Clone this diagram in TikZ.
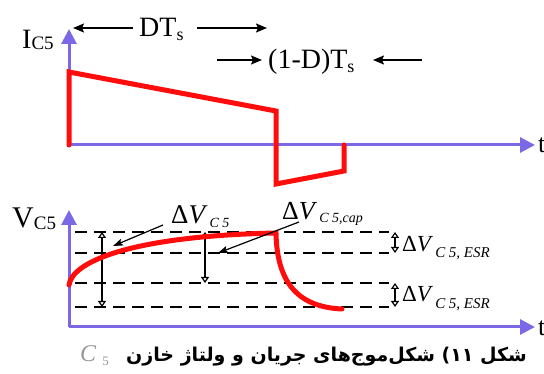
\documentclass[tikz,border=0pt]{standalone}
\usepackage{fontspec}
\setmainfont{Liberation Serif}
\newfontfamily\arabicfont[Script=Arabic]{DejaVu Sans}
\TeXXeTstate=1
\usetikzlibrary{arrows.meta}
\definecolor{axcol}{RGB}{123,104,230}
\definecolor{wred}{RGB}{255,12,12}
\definecolor{capgray}{RGB}{150,150,150}
\newcommand\fsz[1]{\fontsize{#1}{#1}\selectfont}
\begin{document}
\begin{tikzpicture}[x=1pt,y=-1pt,
 axis/.style={draw=axcol,line width=3pt,-{Triangle[length=15pt,width=15pt]}},
 wave/.style={draw=wred,line width=5pt,line join=miter,line cap=round},
 dashline/.style={draw=black,line width=1.3pt,dash pattern=on 12pt off 7pt},
 lbl/.style={inner sep=0pt,anchor=base west},
 dimarrow/.style={draw=black,line width=1.5pt,-{Stealth[length=11pt,width=9pt,inset=2pt]}},
 pointer/.style={draw=black,line width=1.2pt,-{Stealth[length=10pt,width=7pt,inset=2pt]}},
 openarrow/.style={draw=black,line width=1.2pt,{Triangle[open,fill=white,length=6pt,width=8pt]}-{Triangle[open,fill=white,length=6pt,width=8pt]}},
]
\useasboundingbox (0,0) rectangle (544,374);
% ---------- top plot ----------
\coordinate (o1) at (69,145);
\coordinate (y1) at (69,29);
\coordinate (x1) at (535,145);
\draw[axis] (o1) -- (y1);
\draw[axis] (o1) -- (x1);
\coordinate (a0) at (69,145);
\coordinate (a1) at (69,72);
\coordinate (a2) at (276,111);
\coordinate (a3) at (276,184);
\coordinate (a4) at (344,171);
\coordinate (a5) at (344,145);
\draw[wave] (a0) -- (a1) -- (a2) -- (a3) -- (a4) -- (a5);
\node[lbl] (ic5) at (22,49) {\fsz{28}I\raisebox{-1pt}{\fsz{19}C5}};
\node[lbl] (t1) at (538,153) {\fsz{26}t};
\node[lbl] (dt) at (139,37) {\fsz{28}DT\raisebox{-4pt}{\fsz{18}s}};
\coordinate (dtA) at (133,28);
\coordinate (dtB) at (73,28);
\coordinate (dtC) at (197,28);
\coordinate (dtD) at (267,28);
\draw[dimarrow] (dtA) -- (dtB);
\draw[dimarrow] (dtC) -- (dtD);
\node[lbl] (odt) at (268,69) {\fsz{28}(1-D)T\raisebox{-4pt}{\fsz{18}s}};
\coordinate (odA) at (217,60);
\coordinate (odB) at (262,60);
\coordinate (odC) at (422,60);
\coordinate (odD) at (373,60);
\draw[dimarrow] (odA) -- (odB);
\draw[dimarrow] (odC) -- (odD);
% ---------- bottom plot ----------
\foreach \n/\yy in {1/232,2/253,3/283,4/307}{
  \coordinate (dl\n) at (75,\yy);
  \coordinate (dr\n) at (389,\yy);
  \draw[dashline] (dl\n) -- (dr\n);
}
\coordinate (o2) at (69,327);
\coordinate (y2) at (69,210);
\coordinate (x2) at (535,327);
\draw[axis] (o2) -- (y2);
\draw[axis] (o2) -- (x2);
\node[lbl] (vc5) at (12,228) {\fsz{30}V\raisebox{-2pt}{\fsz{19}C5}};
\node[lbl] (t2) at (538,335) {\fsz{26}t};
\coordinate (va1t) at (102,232);
\coordinate (va1b) at (102,307);
\coordinate (va2t) at (205,232);
\coordinate (va2b) at (205,283);
\draw[openarrow] (va1t) -- (va1b);
\draw[openarrow] (va2t) -- (va2b);
\coordinate (v0) at (69,285);
\coordinate (v1) at (276,233);
\coordinate (v2) at (342,309);
\draw[wave] (v0) .. controls (72,262) and (130,236) .. (v1)
             .. controls (277,283) and (298,307) .. (v2);
\coordinate (p1s) at (163,225);
\coordinate (p1e) at (113,246);
\coordinate (p2s) at (299,222);
\coordinate (p2e) at (218,253);
\draw[pointer] (p1s) -- (p1e);
\draw[pointer] (p2s) -- (p2e);
\node[lbl] (dvc5) at (171,224) {\fsz{27}Δ\textit{V}\hspace{2pt}\raisebox{-4pt}{\fsz{14}\textit{C 5}}};
\node[lbl] (dvcap) at (282,220) {\fsz{26}Δ\textit{V}\hspace{2pt}\raisebox{-3pt}{\fsz{14}\textit{C 5,cap}}};
\coordinate (ra1t) at (395,232);
\coordinate (ra1b) at (395,253);
\coordinate (ra2t) at (395,283);
\coordinate (ra2b) at (395,307);
\draw[openarrow] (ra1t) -- (ra1b);
\draw[openarrow] (ra2t) -- (ra2b);
\node[lbl] (esr1) at (402,252) {\fsz{23}Δ\textit{V}\hspace{2pt}\raisebox{-6pt}{\fsz{15}\textit{C 5, ESR}}};
\node[lbl] (esr2) at (402,302) {\fsz{23}Δ\textit{V}\hspace{2pt}\raisebox{-6pt}{\fsz{15}\textit{C 5, ESR}}};
% ---------- caption ----------
\node[anchor=base east,inner sep=0pt] (cap) at (527,362) {\arabicfont\bfseries\fsz{19}\beginR شکل ۱۱) شکل^^^^200cموج^^^^200cهای جریان و ولتاژ خازن\endR};
\node[lbl,text=capgray] (c5) at (80,362) {\fsz{24}\textit{C}\hspace{6pt}\raisebox{-4pt}{\fsz{13}5}};
\end{tikzpicture}
\end{document}
